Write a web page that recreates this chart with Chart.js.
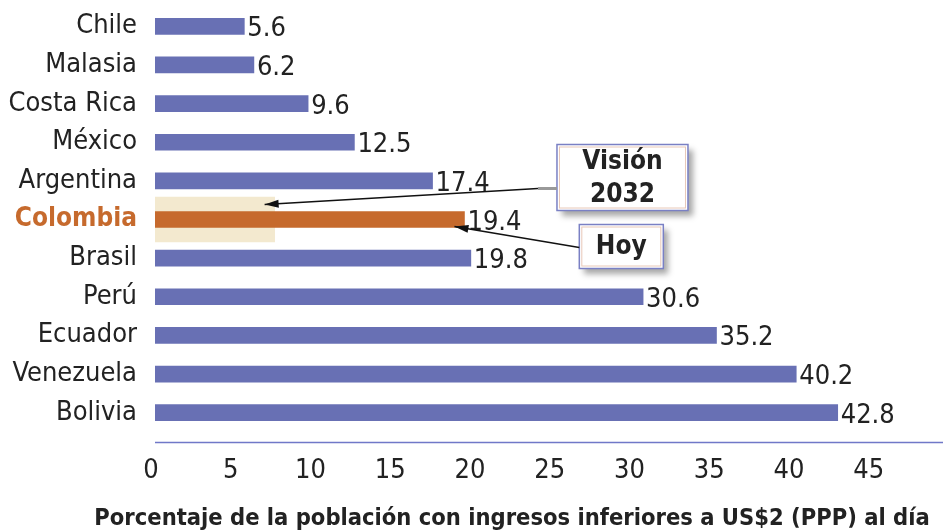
<!DOCTYPE html>
<html>
<head>
<meta charset="utf-8">
<script src="https://cdn.jsdelivr.net/npm/chart.js@4"></script>
<style>
    body { margin: 0; background: #fff; }
</style>
</head>
<body>
<canvas id="povertyChart" width="943" height="531"></canvas>
<script>
const countries = ['Chile', 'Malasia', 'Costa Rica', 'México', 'Argentina', 'Colombia', 'Brasil', 'Perú', 'Ecuador', 'Venezuela', 'Bolivia'];
const values = [5.6, 6.2, 9.6, 12.5, 17.4, 19.4, 19.8, 30.6, 35.2, 40.2, 42.8];
const visionValues = [null, null, null, null, null, 7.5, null, null, null, null, null];
const xTicks = [0, 5, 10, 15, 20, 25, 30, 35, 40, 45];
const axisTitle = 'Porcentaje de la población con ingresos inferiores a US$2 (PPP) al día';

const highlight = 'Colombia';
const blue = 'rgb(104, 112, 180)';
const orange = 'rgb(198, 106, 45)';
const beige = 'rgb(243, 233, 207)';
const textColor = '#222';
const condensed = "'DejaVu Sans Condensed', 'DejaVu Sans', sans-serif";

// Draws the value labels, the bottom axis line, the title and the two callouts
const annotations = {
    id: 'annotations',
    afterDraw(chart) {
        const ctx = chart.ctx;
        const area = chart.chartArea;
        const x = chart.scales.x;
        const y = chart.scales.y;

        ctx.save();
        // value labels
        ctx.font = '27px ' + condensed;
        ctx.fillStyle = textColor;
        ctx.textAlign = 'left';
        ctx.textBaseline = 'middle';
        values.forEach((v, i) => {
            ctx.fillText(v.toFixed(1), x.getPixelForValue(v) + 3, y.getPixelForValue(i) + 3);
        });

        // axis line
        const axisY = area.bottom + 10.5;
        ctx.strokeStyle = 'rgb(112, 120, 200)';
        ctx.lineWidth = 1.5;
        ctx.beginPath();
        ctx.moveTo(area.left, axisY);
        ctx.lineTo(chart.width, axisY);
        ctx.stroke();

        // title
        ctx.font = 'bold 23.5px ' + condensed;
        ctx.textAlign = 'center';
        ctx.fillText(axisTitle, 512, chart.height - 12);

        const idx = countries.indexOf(highlight);
        const rowY = y.getPixelForValue(idx);

        function box(left, top, w, h, lines) {
            ctx.save();
            ctx.shadowColor = 'rgba(0, 0, 0, 0.35)';
            ctx.shadowBlur = 6;
            ctx.shadowOffsetX = 5;
            ctx.shadowOffsetY = 5;
            ctx.fillStyle = '#fff';
            ctx.fillRect(left, top, w, h);
            ctx.restore();
            ctx.strokeStyle = 'rgb(232, 200, 184)';
            ctx.lineWidth = 1;
            ctx.strokeRect(left + 2.5, top + 2.5, w - 5, h - 5);
            ctx.strokeStyle = 'rgb(122, 128, 196)';
            ctx.lineWidth = 1.5;
            ctx.strokeRect(left, top, w, h);
            ctx.fillStyle = textColor;
            ctx.font = 'bold 26px ' + condensed;
            ctx.textAlign = 'center';
            ctx.textBaseline = 'middle';
            const step = h / lines.length;
            lines.forEach((t, i) => ctx.fillText(t, left + w / 2, top + step * (i + 0.5) + 1));
        }

        function arrow(x0, y0, x1, y1) {
            ctx.strokeStyle = '#111';
            ctx.fillStyle = '#111';
            ctx.lineWidth = 1.5;
            ctx.beginPath();
            ctx.moveTo(x0, y0);
            ctx.lineTo(x1, y1);
            ctx.stroke();
            const a = Math.atan2(y1 - y0, x1 - x0);
            const len = 14, half = 4;
            ctx.beginPath();
            ctx.moveTo(x1, y1);
            ctx.lineTo(x1 - len * Math.cos(a) + half * Math.sin(a), y1 - len * Math.sin(a) - half * Math.cos(a));
            ctx.lineTo(x1 - len * Math.cos(a) - half * Math.sin(a), y1 - len * Math.sin(a) + half * Math.cos(a));
            ctx.closePath();
            ctx.fill();
        }

        // Visión 2032 callout
        const vLeft = x.getPixelForValue(25.2);
        const vTop = rowY - 75;
        box(vLeft, vTop, 131, 66, ['Visión', '2032']);
        ctx.strokeStyle = '#999';
        ctx.lineWidth = 3;
        ctx.beginPath();
        ctx.moveTo(vLeft - 19, vTop + 44);
        ctx.lineTo(vLeft, vTop + 44);
        ctx.stroke();
        arrow(vLeft - 19, vTop + 44, x.getPixelForValue(visionValues[idx]) - 10, rowY - 15);

        // Hoy callout
        const hLeft = x.getPixelForValue(26.6);
        const hTop = rowY + 5;
        box(hLeft, hTop, 84, 44, ['Hoy']);
        arrow(hLeft, hTop + 23, x.getPixelForValue(values[idx]) - 10, rowY + 7);

        ctx.restore();
    }
};

const ctx = document.getElementById('povertyChart').getContext('2d');
const chart = new Chart(ctx, {
    type: 'bar',
    data: {
        labels: countries,
        datasets: [{
            data: values,
            backgroundColor: countries.map(c => c === highlight ? orange : blue),
            barThickness: 16,
            grouped: false
        }, {
            data: visionValues,
            backgroundColor: beige,
            barThickness: 45,
            grouped: false
        }]
    },
    options: {
        indexAxis: 'y',
        responsive: false,
        animation: false,
        layout: { padding: { top: 7 } },
        plugins: {
            legend: { display: false },
            tooltip: { enabled: false }
        },
        scales: {
            x: {
                min: 0,
                max: 49.4,
                grid: { display: false, drawTicks: false },
                border: { display: false },
                afterFit: scale => {
                    scale.height = 99;
                    scale.paddingLeft = 0;
                    scale.paddingRight = 0;
                },
                afterBuildTicks: scale => { scale.ticks = xTicks.map(v => ({ value: v })); },
                ticks: {
                    padding: 23,
                    labelOffset: -4,
                    color: textColor,
                    font: { family: condensed, size: 27 }
                }
            },
            y: {
                grid: { display: false, drawTicks: false },
                border: { display: false },
                afterFit: scale => {
                    scale.width = 155;
                    scale.paddingTop = 0;
                    scale.paddingBottom = 0;
                },
                ticks: {
                    autoSkip: false,
                    padding: 18,
                    color: c => countries[c.index] === highlight ? orange : textColor,
                    font: c => countries[c.index] === highlight
                        ? { family: condensed, size: 26, weight: 'bold' }
                        : { family: condensed, size: 27 }
                }
            }
        }
    },
    plugins: [annotations]
});
</script>
</body>
</html>
